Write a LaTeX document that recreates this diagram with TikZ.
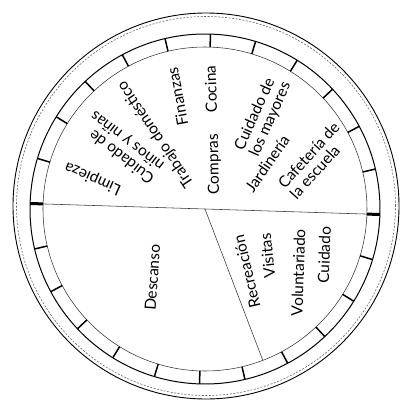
\documentclass[tikz,border=0pt]{standalone}
\usepackage{fontspec}
\setmainfont{Lato}
\begin{document}
\begin{tikzpicture}[x=1pt,y=1pt,
  lbl/.style={inner sep=0pt, align=left, font=\fontsize{15.5}{16}\selectfont},
  ringline/.style={line width=1pt},
  tickmark/.style={line width=1.5pt},
  bigtick/.style={line width=3pt},
  thinline/.style={line width=0.55pt, black!80}]
\useasboundingbox (-205,-207) rectangle (204,209);
\coordinate (c) at (0,0);
\coordinate (oc) at (1,3);
% outer hand-drawn rim
\draw[line width=0.9pt] (oc) circle (193);
\draw[black!60, dash pattern=on 2pt off 1.5pt, line width=0.6pt] (oc) circle (189.5);
\begin{scope}[rotate=-1.8]
  \draw[ringline] (c) circle (175);
  \draw[thinline] (c) circle (162);
  \foreach \a in {15,30,...,165,195,210,...,345} {
    \draw[tickmark] (\a:162) -- (\a:175);
  }
  \draw[bigtick] (0:162) -- (0:175);
  \draw[bigtick] (180:162) -- (180:175);
  \coordinate (L) at (180:162);
  \coordinate (R) at (0:162);
  \coordinate (D) at (-67.3:162);
  \draw[thinline] (L) -- (R);
  \draw[thinline] (c) -- (D);
\end{scope}
% upper half labels
\node[lbl, rotate=156] (limp) at (-112,31) {Limpieza};
\node[lbl, rotate=142.5] (cuin) at (-82.3,62.1) {Cuidado de\\niños y niñas};
\node[lbl, rotate=124] (trab) at (-49.2,74.8) {Trabajo doméstico};
\node[lbl, rotate=100.5] (fin) at (-27.5,112.3) {Finanzas};
\node[lbl, rotate=92] (coc) at (5.8,120) {Cocina};
\node[lbl, rotate=91] (comp) at (9.2,44.8) {Compras};
\node[lbl, rotate=66] (may) at (58.1,92.8) {Cuidado de\\los mayores};
\node[lbl, rotate=55.5] (jard) at (62.3,45.5) {Jardinería};
\node[lbl, rotate=48] (caf) at (109.5,48.7) {Cafetería de\\la escuela};
% lower half labels
\node[lbl, rotate=86] (desc) at (-52.5,-68.5) {Descanso};
\node[lbl, rotate=103] (recr) at (41.7,-62.7) {Recreación};
\node[lbl, rotate=96] (visi) at (62.5,-46.8) {Visitas};
\node[lbl, rotate=88] (volu) at (93.3,-63.5) {Voluntariado};
\node[lbl, rotate=88] (cuid) at (119.2,-46) {Cuidado};
\end{tikzpicture}
\end{document}
